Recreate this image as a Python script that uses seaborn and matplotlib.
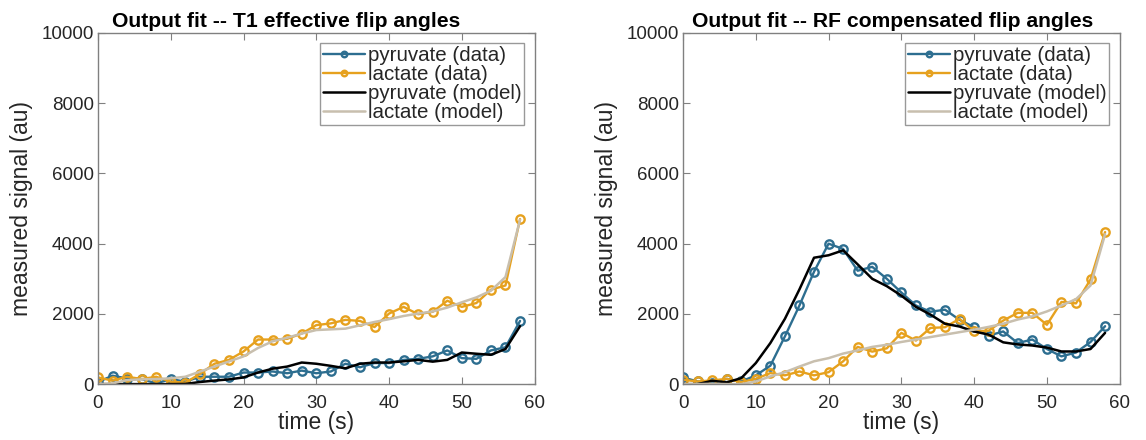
import numpy as np
import pandas as pd
import seaborn as sns
import matplotlib.pyplot as plt

# time points (s)
time = list(range(0, 60, 2))

# left panel: T1 effective flip angles
pyr_data_t1 = [60, 240, 160, 145, 20, 145, 70, 210, 210, 210, 330, 330, 360, 310, 385,
               310, 360, 580, 480, 600, 600, 690, 720, 790, 960, 740, 720, 960, 1050, 1800]
lac_data_t1 = [190, 100, 210, 145, 210, 70, 40, 290, 580, 690, 930, 1270, 1270, 1290, 1440,
               1680, 1730, 1830, 1800, 1625, 2010, 2200, 1990, 2060, 2375, 2200, 2310, 2690, 2810, 4700]
pyr_model_t1 = [0, 0, 0, 0, 0, 0, 5, 60, 100, 135, 190, 330, 440, 500, 615,
                580, 520, 450, 580, 615, 615, 650, 690, 640, 690, 900, 865, 835, 1000, 1650]
lac_model_t1 = [0, 20, 115, 135, 145, 165, 210, 355, 500, 645, 790, 1030, 1220, 1320, 1440,
                1540, 1560, 1580, 1675, 1770, 1850, 1940, 2010, 2070, 2180, 2330, 2470, 2660, 3050, 4680]

# right panel: RF compensated flip angles
pyr_data_rf = [190, 75, 30, 150, 75, 250, 525, 1360, 2240, 3200, 4000, 3850, 3230, 3340, 3000,
               2610, 2240, 2060, 2120, 1830, 1620, 1380, 1500, 1170, 1270, 1000, 790, 900, 1200, 1650]
lac_data_rf = [125, 75, 105, 150, 60, 150, 315, 250, 360, 250, 340, 650, 1060, 925, 1020,
               1460, 1240, 1600, 1620, 1860, 1500, 1520, 1810, 2030, 2030, 1690, 2340, 2300, 2980, 4330]
pyr_model_rf = [0, 0, 95, 50, 170, 600, 1170, 1860, 2700, 3600, 3670, 3810, 3410, 3000, 2790,
                2520, 2200, 1980, 1720, 1640, 1500, 1410, 1190, 1130, 1100, 1040, 930, 930, 1000, 1460]
lac_model_rf = [0, 0, 10, 0, 0, 75, 220, 340, 500, 650, 740, 870, 960, 1060, 1120,
                1200, 1270, 1340, 1410, 1480, 1550, 1630, 1720, 1840, 1930, 2070, 2240, 2420, 2810, 4270]

titles = ["Output fit -- T1 effective flip angles", "Output fit -- RF compensated flip angles"]
title_x = [0.432, 0.48]
panels = [
    (pyr_data_t1, lac_data_t1, pyr_model_t1, lac_model_t1),
    (pyr_data_rf, lac_data_rf, pyr_model_rf, lac_model_rf),
]

c_pyr = "#2d6e90"
c_lac = "#e6a11e"
c_pyr_m = "#000000"
c_lac_m = "#c8bfae"

sns.set_style("white")
plt.rcParams['font.family'] = ['Liberation Sans', 'DejaVu Sans']

fig, axes = plt.subplots(1, 2, figsize=(11.46, 4.4), dpi=100)
fig.subplots_adjust(left=0.0855, right=0.977, bottom=0.127, top=0.925, wspace=0.34)

for ax, title, tx, (pd_, ld_, pm_, lm_) in zip(axes, titles, title_x, panels):
    df = pd.DataFrame({"time": time, "pd": pd_, "ld": ld_, "pm": pm_, "lm": lm_})
    sns.lineplot(data=df, x="time", y="pd", ax=ax, color=c_pyr, lw=1.7, marker="o",
                 markersize=6, markerfacecolor="none", markeredgecolor=c_pyr, markeredgewidth=1.7,
                 label="pyruvate (data)")
    sns.lineplot(data=df, x="time", y="ld", ax=ax, color=c_lac, lw=1.7, marker="o",
                 markersize=6, markerfacecolor="none", markeredgecolor=c_lac, markeredgewidth=1.7,
                 label="lactate (data)")
    sns.lineplot(data=df, x="time", y="pm", ax=ax, color=c_pyr_m, lw=1.8, label="pyruvate (model)")
    sns.lineplot(data=df, x="time", y="lm", ax=ax, color=c_lac_m, lw=1.8, label="lactate (model)")

    ax.set_xlim(0, 60)
    ax.set_ylim(0, 10000)
    ax.set_xticks(range(0, 61, 10))
    ax.set_yticks(range(0, 10001, 2000))
    ax.set_title(title, fontsize=15.2, fontweight="bold", pad=4, x=tx, color="black")
    ax.set_xlabel("time (s)", fontsize=16.5, color="#262626", labelpad=-1)
    ax.set_ylabel("measured signal (au)", fontsize=16.5, color="#262626", labelpad=6)
    ax.tick_params(direction="in", length=5, width=0.8, colors="#808080", labelcolor="#262626",
                   labelsize=13.5, top=True, right=True, bottom=True, left=True, pad=3)
    ax.tick_params(axis="x", pad=8)
    for s in ax.spines.values():
        s.set_color("#808080")
        s.set_linewidth(1.0)
    leg = ax.legend(loc="upper right", fontsize=14.8, frameon=True, fancybox=False,
                    handlelength=2.0, handletextpad=0.15, borderpad=0.15, labelspacing=0.0,
                    borderaxespad=0.5)
    leg.get_frame().set_edgecolor("#808080")
    leg.get_frame().set_linewidth(1.0)
    for h in leg.legend_handles:
        h.set_markersize(4)

fig.savefig("out.png", dpi=100)
